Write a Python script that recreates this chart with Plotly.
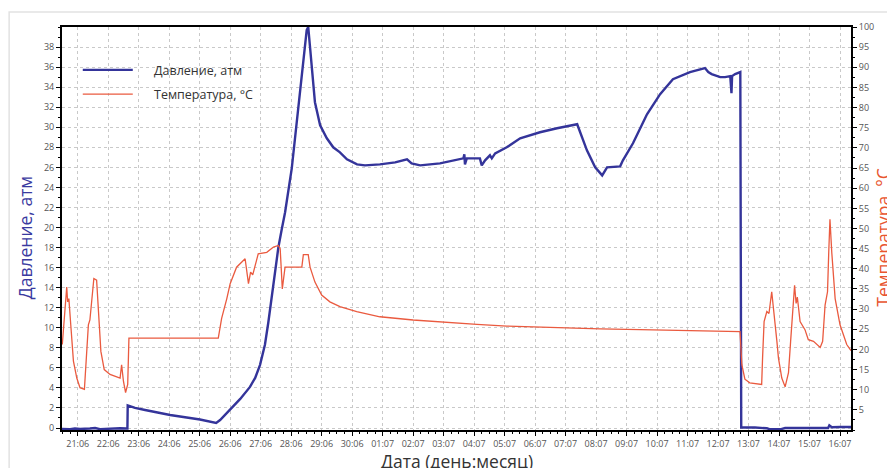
import plotly.graph_objects as go

# x values: days since 21.06 (00:00)
p_days = [-0.515, -0.25, -0.09, 0.075, 0.40, 0.57, 0.73, 1.06, 1.39, 1.58, 1.63, 1.64, 1.88, 2.21, 3.03, 4.01,
          4.54, 4.67, 5.0, 5.33, 5.65, 5.82, 5.98, 6.14, 6.25, 6.36, 6.47, 6.58, 6.69, 6.80, 7.02, 7.18, 7.35,
          7.51, 7.56, 7.67, 7.78, 7.95, 8.17, 8.38, 8.60, 8.83, 9.16, 9.42, 9.91, 10.41, 10.80, 10.95, 11.23,
          11.88, 12.65, 12.68, 12.70, 12.76, 13.19, 13.25, 13.36, 13.52, 13.58, 13.69, 14.07, 14.51, 15.16,
          15.72, 16.38, 16.70, 16.97, 17.20, 17.36, 17.79, 17.88, 18.21, 18.67, 19.10, 19.52, 20.08, 20.41,
          20.57, 20.68, 20.79, 21.07, 21.23, 21.40, 21.44, 21.46, 21.56, 21.73, 21.76, 22.21, 22.60, 22.71,
          23.04, 23.20, 23.70, 24.19, 24.61, 24.65, 24.73, 25.0, 25.36]
pressure = [-0.1, -0.12, -0.05, -0.1, -0.05, 0.0, -0.12, -0.05, -0.02, -0.05, -0.05, 2.25, 2.0, 1.8, 1.3, 0.85,
            0.5, 0.8, 1.9, 2.9, 4.1, 5.0, 6.3, 8.3, 10.5, 13.0, 15.5, 18.0, 19.8, 21.5, 25.9, 30.2, 35.1,
            39.7, 40.0, 35.8, 32.5, 30.2, 28.9, 28.0, 27.5, 26.8, 26.3, 26.2, 26.3, 26.5, 26.8, 26.4, 26.2,
            26.4, 26.9, 27.3, 26.3, 26.9, 26.9, 26.2, 26.7, 27.2, 26.9, 27.4, 28.0, 28.9, 29.5,
            29.9, 30.3, 27.7, 26.0, 25.2, 26.0, 26.1, 26.7, 28.4, 31.3, 33.3, 34.8, 35.5, 35.8,
            35.9, 35.5, 35.3, 35.0, 35.0, 35.1, 33.4, 35.1, 35.3, 35.5, 0.05, 0.05, -0.03, -0.13,
            -0.13, 0.0, 0.0, 0.02, 0.0, 0.27, 0.08, 0.1, 0.1]

t_days = [-0.505, -0.42, -0.36, -0.33, -0.29, -0.22, -0.14, -0.03, 0.075, 0.22, 0.30, 0.35, 0.40, 0.46, 0.53,
          0.62, 0.68, 0.76, 0.87, 1.06, 1.39, 1.44, 1.50, 1.57, 1.64, 1.68, 4.61, 4.72, 4.89, 5.0, 5.21, 5.49,
          5.60, 5.67, 5.74, 5.92, 6.20, 6.42, 6.58, 6.64, 6.71, 6.80, 7.35, 7.40, 7.56, 7.62, 7.78, 8.0, 8.27,
          8.60, 9.15, 9.91, 11.0, 11.98, 13.09, 14.07, 15.16, 16.25, 17.13, 18.44, 20.08, 21.72, 21.78, 21.88,
          22.04, 22.43, 22.46, 22.51, 22.60, 22.67, 22.76, 22.81, 22.93, 22.98, 23.09, 23.20, 23.31, 23.38,
          23.47, 23.51, 23.56, 23.60, 23.69, 23.85, 23.96, 24.13, 24.35, 24.43, 24.51, 24.59, 24.63, 24.67,
          24.73, 24.84, 25.0, 25.22, 25.36]
temperature = [21.2, 29.4, 35.5, 31.8, 32.6, 25.3, 17.1, 12.9, 10.5, 10.1, 20.3, 26.1, 27.3, 32.6, 37.6,
               37.2, 28.5, 19.5, 15.0, 13.8, 12.9, 16.2, 12.1, 9.3, 11.3, 22.8, 22.8, 27.7, 32.6, 36.3, 40.4, 42.5,
               36.3, 39.2, 38.5, 43.7, 44.1, 45.4, 45.8, 45.0, 35.0, 40.4, 40.4, 43.5, 43.5, 40.4, 36.7, 33.5, 31.8,
               30.6, 29.4, 28.1, 27.3, 26.7, 26.2, 25.8, 25.5, 25.3, 25.1, 24.9, 24.6, 24.4, 16.2, 12.6,
               11.7, 11.3, 17.9, 26.9, 29.4, 28.9, 34.3, 31.0, 22.0, 17.9, 12.9, 10.7, 14.2, 22.0,
               30.2, 35.9, 31.4, 33.0, 26.9, 24.9, 22.4, 22.0, 20.5, 22.0, 31.0, 34.3, 44.1, 52.3,
               44.0, 32.6, 26.1, 21.2, 19.7]

x_tick_vals = list(range(0, 26))
x_tick_text = ["21:06", "22:06", "23:06", "24:06", "25:06", "26:06", "27:06", "28:06", "29:06", "30:06",
               "01:07", "02:07", "03:07", "04:07", "05:07", "06:07", "07:07", "08:07", "09:07", "10:07",
               "11:07", "12:07", "13:07", "14:07", "15:07", "16:07"]
p_tick_vals = list(range(0, 40, 2))
t_tick_vals = list(range(5, 101, 5))

BLUE = "#34349a"
RED = "#ea5a3f"
GRID = "#c9c9c9"
FONT = "Open Sans"
PAD = "\u00a0" * 5

fig = go.Figure()
fig.add_trace(go.Scatter(x=p_days, y=pressure, mode="lines", name=PAD + "Давление, атм",
                         line=dict(color=BLUE, width=2.4), legendgroup="a"))
fig.add_trace(go.Scatter(x=t_days, y=temperature, mode="lines", name=PAD + "Температура, °С",
                         line=dict(color=RED, width=1.3), yaxis="y2", legendgroup="b"))

fig.update_layout(
    width=895, height=468,
    margin=dict(l=54, r=52, t=14, b=46),
    paper_bgcolor="white", plot_bgcolor="white",
    font=dict(family=FONT, color="#444", size=9),
    showlegend=True,
    legend=dict(x=0.02, y=0.93, xanchor="left", yanchor="top", bgcolor="rgba(0,0,0,0)",
                font=dict(size=12.5, color="#333", family=FONT), itemwidth=50, tracegroupgap=5),
    xaxis=dict(range=[-0.515, 25.36], tickmode="array", tickvals=x_tick_vals, ticktext=x_tick_text,
               showgrid=True, gridcolor=GRID, griddash="dot", gridwidth=1,
               showline=True, linecolor="black", linewidth=2, mirror=True,
               ticks="outside", ticklen=4, tickcolor="black", zeroline=False,
               tickfont=dict(size=9, color="#555"),
               minor=dict(dtick=0.25, tick0=0, ticks="outside", ticklen=2, tickcolor="black", showgrid=False)),
    yaxis=dict(range=[-0.2, 40], tickmode="array", tickvals=p_tick_vals,
               showgrid=True, gridcolor=GRID, griddash="dot", gridwidth=1,
               showline=True, linecolor="black", linewidth=2, mirror=True,
               ticks="outside", ticklen=4, tickcolor="black", zeroline=False,
               tickfont=dict(size=9, color="#555"),
               minor=dict(dtick=1, tick0=0, ticks="outside", ticklen=2, tickcolor="black", showgrid=False)),
    yaxis2=dict(range=[0, 100], overlaying="y", side="right", tickmode="array", tickvals=t_tick_vals,
                showgrid=False, showline=True, linecolor="black", linewidth=2,
                ticks="outside", ticklen=4, tickcolor="black", zeroline=False,
                tickfont=dict(size=9, color="#555"),
                minor=dict(dtick=2.5, tick0=0, ticks="outside", ticklen=2, tickcolor="black")),
    annotations=[
        dict(text="Давление, атм", xref="paper", yref="paper", x=-0.047, y=0.478, textangle=-90,
             showarrow=False, xanchor="center", yanchor="middle", font=dict(size=17.5, color="#3a3aa0", family=FONT)),
        dict(text="Температура, °С", xref="paper", yref="paper", x=1.041, y=0.478, textangle=-90,
             showarrow=False, xanchor="center", yanchor="middle", font=dict(size=17.5, color="#e8552f", family=FONT)),
        dict(text="Дата (день:месяц)", xref="paper", yref="paper", x=0.5, y=-0.078,
             showarrow=False, xanchor="center", yanchor="middle", font=dict(size=17.5, color="#333", family=FONT)),
    ],
    shapes=[
        dict(type="rect", xref="paper", yref="paper", x0=-0.067, y0=-0.3, x1=1.2, y1=1.037,
             line=dict(color="#e2e2e2", width=1.5), fillcolor="rgba(0,0,0,0)", layer="below"),
    ],
)

fig.write_html("out.html")
